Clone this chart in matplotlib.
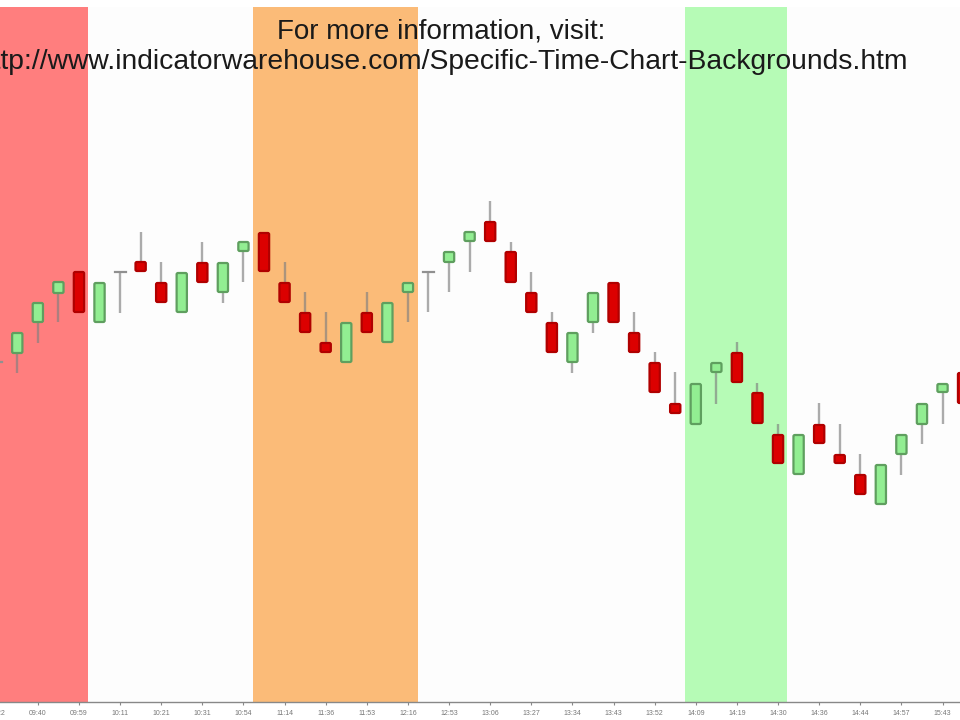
import numpy as np
import matplotlib
matplotlib.use('agg')
import matplotlib.pyplot as plt
from matplotlib.patches import FancyBboxPatch

plt.rcParams['font.family'] = ['Liberation Sans', 'DejaVu Sans']

# one candle per slot, prices in chart units
opens = [338, 346, 377, 406, 429, 377, 428, 439, 418, 387, 438, 407, 448, 468, 418, 388,
         358, 337, 388, 357, 407, 428, 437, 458, 479, 449, 408, 378, 337, 377, 418, 368,
         338, 297, 275, 327, 348, 308, 266, 225, 276, 246, 226, 195, 245, 275, 307, 328]
closes = [338, 368, 398, 419, 387, 418, 428, 428, 397, 428, 417, 438, 459, 428, 397, 367,
          347, 378, 367, 398, 418, 428, 449, 469, 458, 417, 387, 347, 368, 408, 377, 347,
          307, 286, 317, 338, 317, 276, 236, 266, 256, 236, 205, 236, 266, 297, 317, 296]
highs = [338, 368, 398, 419, 429, 418, 428, 468, 438, 428, 458, 438, 459, 468, 438, 408,
         388, 378, 408, 398, 418, 428, 449, 469, 499, 458, 428, 388, 368, 408, 418, 388,
         348, 328, 317, 338, 358, 317, 276, 266, 297, 276, 246, 236, 266, 297, 317, 328]
lows = [338, 327, 357, 378, 387, 377, 387, 428, 397, 387, 417, 397, 418, 428, 397, 367,
        347, 337, 367, 357, 378, 388, 408, 428, 458, 417, 387, 347, 327, 367, 377, 347,
        307, 286, 275, 296, 317, 276, 236, 225, 256, 236, 205, 195, 225, 256, 276, 296]

tick_pos = list(range(2, 48, 2))
tick_labels = ['09:40', '09:59', '10:11', '10:21', '10:31', '10:54', '11:14',
               '11:36', '11:53', '12:16', '12:53', '13:06', '13:27', '13:34', '13:43',
               '13:52', '14:09', '14:19', '14:30', '14:36', '14:44', '14:57', '15:43']

# highlighted time ranges, in candle slots
bands = [(-1, 4.43, '#ff7e7e'), (12.47, 20.49, '#fbbb78'), (33.47, 38.44, '#b6fbb6')]

fig = plt.figure(figsize=(9.6, 7.2), dpi=100, facecolor='white')
ax = fig.add_axes([0, 18 / 720, 1, 695 / 720], facecolor='#fdfdfd')

for start, end, col in bands:
    ax.axvspan(start, end, color=col, lw=0, zorder=1)

for i in range(len(opens)):
    up = closes[i] >= opens[i]
    top = max(opens[i], closes[i])
    bottom = min(opens[i], closes[i])
    ax.plot([i, i], [lows[i], highs[i]], color='#808080', lw=1.7, alpha=0.65, solid_capstyle='butt', zorder=2)
    if top == bottom:
        ax.plot([i - 0.27, i + 0.27], [top, top], color='#909090', lw=1.6, zorder=3)
        continue
    face = '#92ee92' if up else '#dc0000'
    edge = '#5f9f5f' if up else '#b00000'
    box = FancyBboxPatch((i - 0.25, bottom + 1), 0.5, top - bottom - 2,
                         boxstyle='round,pad=0,rounding_size=0.07', mutation_aspect=20.56,
                         facecolor=face, edgecolor=edge, lw=1.6, zorder=3)
    ax.add_patch(box)

ax.set_xticks(tick_pos)
ax.set_xticklabels(tick_labels, fontsize=5, color='#777777')
# set_xticks widens the view, so the limits go after it
ax.set_xlim(0.16, 46.85)
ax.set_ylim(-2, 693)
ax.set_yticks([])
ax.tick_params(axis='x', length=2, width=0.8, color='#888888', pad=3.5)
for s in ['top', 'left', 'right']:
    ax.spines[s].set_visible(False)
ax.spines['bottom'].set_color('#888888')
ax.spines['bottom'].set_linewidth(1)

# first label hangs off the left edge like in the original
ax.annotate('09:22', xy=(0, 0), xycoords=('data', 'axes fraction'), xytext=(0, -5.5),
            textcoords='offset points', ha='center', va='top', fontsize=5, color='#777777',
            annotation_clip=False)

fig.text(441 / 960, 1 - 31 / 720, 'For more information, visit:', ha='center', va='center', fontsize=20, color='#1a1a1a')
fig.text(442 / 960, 1 - 62 / 720, 'http://www.indicatorwarehouse.com/Specific-Time-Chart-Backgrounds.htm', ha='center', va='center', fontsize=20.3, color='#1a1a1a')

fig.savefig('out.png', dpi=100)
